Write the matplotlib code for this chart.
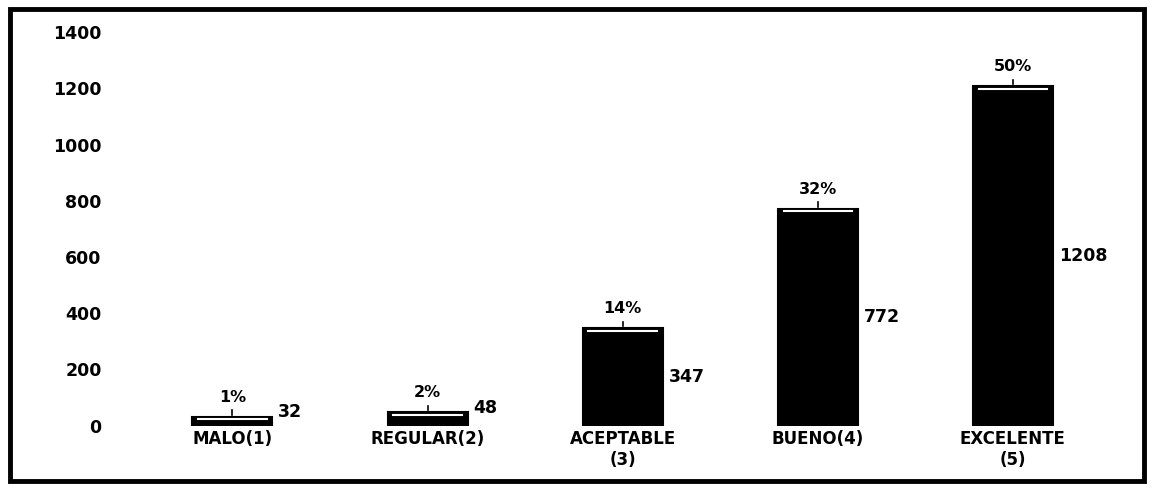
import numpy as np
import matplotlib.pyplot as plt
from matplotlib.patches import Rectangle

categorias = ["MALO(1)", "REGULAR(2)", "ACEPTABLE\n(3)", "BUENO(4)", "EXCELENTE\n(5)"]
valores = [32, 48, 347, 772, 1208]
porcentajes = ["1%", "2%", "14%", "32%", "50%"]
yticks = [0, 200, 400, 600, 800, 1000, 1200, 1400]

fig = plt.figure(figsize=(11.53, 4.88), dpi=100)
ax = fig.add_axes([0.117, 0.128, 0.846, 0.806])

x = np.arange(len(categorias))
w = 0.41
ax.bar(x, valores, width=w, color="black", edgecolor="black", lw=1.5)

# linea blanca arriba de cada barra, marca y etiquetas
for xi, v, p in zip(x, valores, porcentajes):
    top = v - min(10, v * 0.35)
    ax.plot([xi - w / 2 + 0.03, xi + w / 2 - 0.03], [top, top], color="white", lw=1.5)
    ax.plot([xi, xi], [v + 6, v + 22], color="black", lw=1.2)
    ax.text(xi, v + 42, p, ha="center", va="bottom", fontsize=11.5, fontweight="bold")
    ylab = v + 15 if v < 100 else v / 2
    ax.text(xi + w / 2 + 0.03, ylab, str(v), ha="left", va="center",
            fontsize=12.5, fontweight="bold")

ax.set_xlim(-0.5, 4.5)
ax.set_ylim(0, 1400)
ax.set_yticks(yticks)
ax.set_yticklabels([str(t) for t in yticks], fontsize=12.5, fontweight="bold")
ax.set_xticks(x)
ax.set_xticklabels(categorias, fontsize=12, fontweight="bold", linespacing=1.2)
ax.tick_params(axis="y", length=0, pad=24)
ax.tick_params(axis="x", length=0, pad=3)
for s in ax.spines.values():
    s.set_visible(False)

fig.patches.append(Rectangle((0.009, 0.014), 0.983, 0.968, transform=fig.transFigure,
                             fill=False, lw=3.5, edgecolor="black"))

fig.savefig("out.png", dpi=100)
